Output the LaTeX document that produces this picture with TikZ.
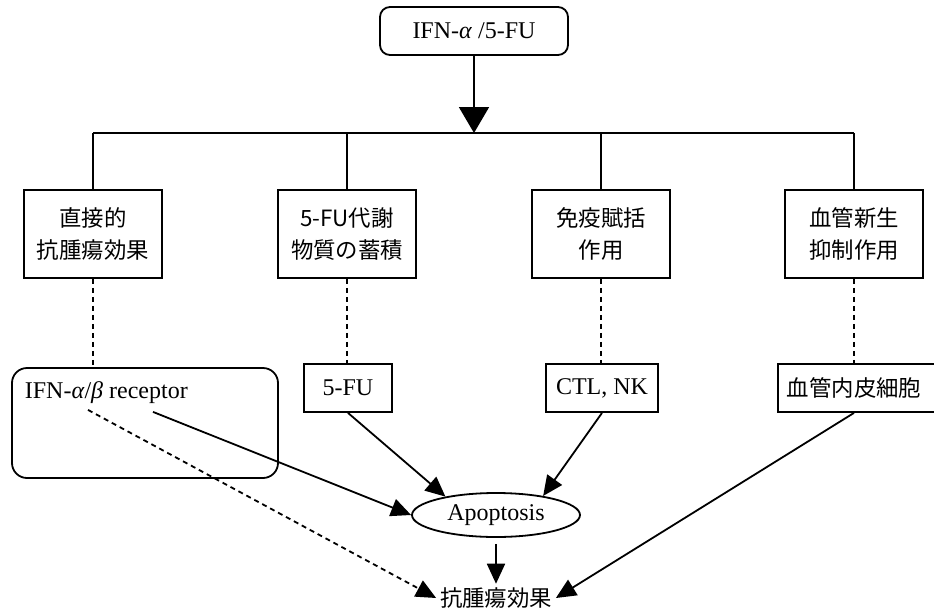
\documentclass[tikz,border=0pt]{standalone}
\usepackage{fontspec}
\setmainfont{Liberation Serif}
\newfontfamily\jpfont{Noto Sans CJK JP}
\usetikzlibrary{arrows.meta}
\usetikzlibrary{shapes.geometric}
\usetikzlibrary{calc}

\begin{document}
\begin{tikzpicture}[x=0.5pt, y=-0.5pt, line width=0.9pt,
    lat/.style={font=\fontsize{12}{14}\selectfont},
    jp/.style={font=\jpfont\fontsize{11.2}{16}\selectfont, align=center},
    actbox/.style={draw, jp, minimum width=69pt, minimum height=44pt, inner sep=0pt},
    smallbox/.style={draw, minimum height=24pt, inner sep=0pt},
    dashline/.style={dash pattern=on 2.5pt off 2pt},
    arr/.style={-{Triangle[length=10pt, width=9pt]}}]
    \useasboundingbox (0,0) rectangle (934,612);

    % start and the four effects
    \node[draw, rounded corners=5pt, lat, minimum width=94pt, minimum height=24pt] (top) at (474,31) {IFN-\textit{α} /5-FU};
    \coordinate (bar) at (474,133);
    \node[actbox] (d1) at (93,234) {直接的\\抗腫瘍効果};
    \node[actbox] (d2) at (347,234) {5-FU代謝\\物質の蓄積};
    \node[actbox] (d3) at (601,234) {免疫賦括\\作用};
    \node[actbox] (d4) at (854,234) {血管新生\\抑制作用};

    \draw[-{Triangle[length=13pt, width=15pt]}] (top) -- (bar);
    \draw (d1.north |- bar) -- (d4.north |- bar);
    \foreach \n in {d1,d2,d3,d4}
        \draw (\n.north) -- (\n.north |- bar);

    % targets
    \node[draw, rounded corners=7.5pt, minimum width=133pt, minimum height=55pt] (rec) at (145,423) {};
    \node[lat, anchor=west, inner sep=1pt] (rlab) at (22,393) {IFN-\textit{α}/\textit{β} receptor};
    \node[smallbox, lat, minimum width=44pt] (fu) at (348,388) {5-FU};
    \node[smallbox, lat, minimum width=56pt] (ctl) at (602,388) {CTL, NK};
    \node[smallbox, jp, minimum width=84pt] (vas) at (862,388) {\hspace*{-8pt}血管内皮細胞};

    \draw[dashline] (d1.south) -- (d1.south |- rec.north);
    \draw[dashline] (d2.south) -- (d2.south |- fu.north);
    \draw[dashline] (d3.south) -- (d3.south |- ctl.north);
    \draw[dashline] (d4.south) -- (d4.south |- vas.north);

    % apoptosis and final effect
    \node[draw, ellipse, lat, minimum width=84pt, minimum height=22pt, inner sep=0pt] (apo) at (496,515) {Apoptosis};
    \node[jp, inner sep=1.5pt] (eff) at (496,598) {抗腫瘍効果};

    \draw[arr] ($(rlab.south west)+(131,5)$) -- (apo.west);
    \draw[arr] (fu.south) -- (apo.160);
    \draw[arr] (ctl.south) -- (apo.22);
    \draw[arr, shorten <=3pt] (apo.south) -- (eff.north);
    \draw[arr, dashline] ($(rlab.south west)+(66,3)$) -- (eff.west);
    \draw[arr] ([xshift=-4pt]vas.south) -- (eff.east);
\end{tikzpicture}
\end{document}
